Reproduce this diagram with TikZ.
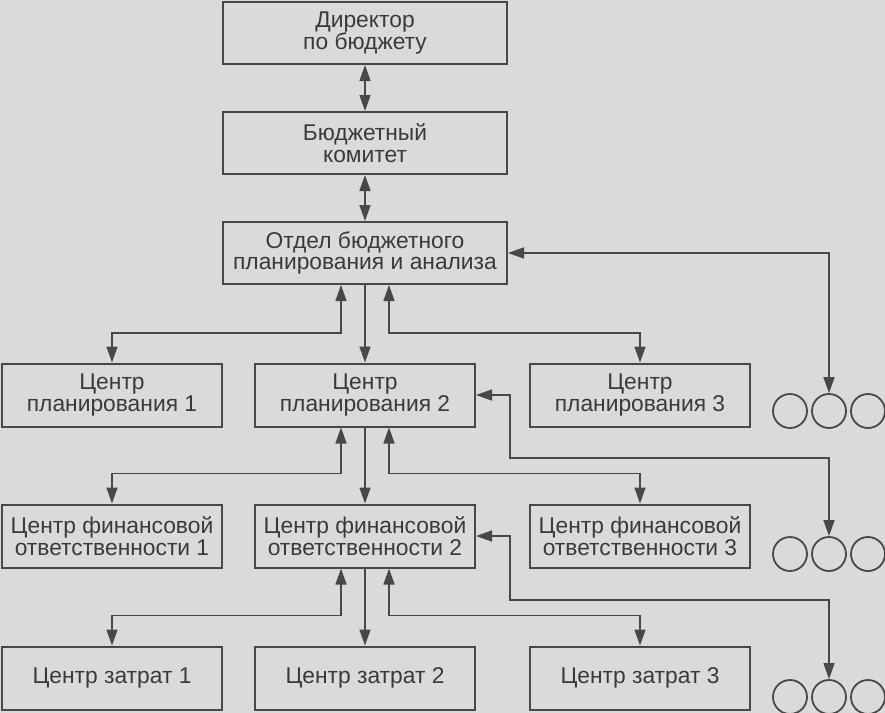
\documentclass[tikz,border=0pt]{standalone}
\usepackage{fontspec}
\setmainfont{Liberation Sans}
\usetikzlibrary{arrows.meta,positioning,calc}
\definecolor{bg}{RGB}{218,218,218}
\definecolor{ink}{RGB}{72,72,72}
\definecolor{txt}{RGB}{58,58,58}

\begin{document}
\begin{tikzpicture}[x=0.5pt, y=-0.5pt,
      font=\fontsize{11.4}{10.8}\selectfont, text=txt,
      topbox/.style={draw=ink, line width=1pt, align=center,
          minimum width=142pt, minimum height=31pt, inner sep=0pt},
      box/.style={draw=ink, line width=1pt, align=center,
          minimum width=110pt, minimum height=31.5pt, inner sep=0pt},
      ring/.style={draw=ink, line width=0.9pt, circle,
          minimum size=17pt, inner sep=0pt},
      link/.style={draw=ink, line width=0.8pt,
          -{Triangle[length=8pt, width=5.5pt]}},
      dlink/.style={draw=ink, line width=0.8pt,
          {Triangle[length=8pt, width=5.5pt]}-{Triangle[length=8pt, width=5.5pt]}}]

      \fill[bg] (0,0) rectangle (885,713);
      \useasboundingbox (0,0) rectangle (885,713);

      % top of the structure
      \node[topbox] (dir)   at (365,33)  {Директор\\по бюджету};
      \node[topbox] (kom)   at (365,143) {Бюджетный\\комитет};
      \node[topbox] (otdel) at (365,253) {Отдел бюджетного\\планирования и анализа};

      % three levels of centres
      \node[box] (cp1) at (112,395) {Центр\\планирования 1};
      \node[box] (cp2) at (365,395) {Центр\\планирования 2};
      \node[box] (cp3) at (640,395) {Центр\\планирования 3};

      \node[box] (cfo1) at (112,536) {Центр финансовой\\ответственности 1};
      \node[box] (cfo2) at (365,536) {Центр финансовой\\ответственности 2};
      \node[box] (cfo3) at (640,536) {Центр финансовой\\ответственности 3};

      \node[box] (cz1) at (112,678) {Центр затрат 1};
      \node[box] (cz2) at (365,678) {Центр затрат 2};
      \node[box] (cz3) at (640,678) {Центр затрат 3};

      % dots on the right
      \foreach \r/\y in {1/411, 2/554, 3/697}
          \foreach \c/\x in {1/790, 2/829, 3/868}
              \node[ring] (c\r\c) at (\x,\y) {};

      % connectors
      \draw[dlink] (dir) -- (kom);
      \draw[dlink] (kom) -- (otdel);
      \draw[dlink] (otdel.east) -| (c12.north);

      \draw[dlink] ([xshift=-12pt]otdel.south) |- ++(-228,48) -| (cp1.north);
      \draw[link]  (otdel) -- (cp2);
      \draw[dlink] ([xshift=12pt]otdel.south) |- ++(252,48) -| (cp3.north);
      \draw[dlink] (cp2.east) -- ++(34,0) -- ++(0,63) -| (c22.north);

      \draw[dlink] ([xshift=-12pt]cp2.south) |- ++(-228,46) -| (cfo1.north);
      \draw[link]  (cp2) -- (cfo2);
      \draw[dlink] ([xshift=12pt]cp2.south) |- ++(252,46) -| (cfo3.north);
      \draw[dlink] (cfo2.east) -- ++(34,0) -- ++(0,64) -| (c32.north);

      \draw[dlink] ([xshift=-12pt]cfo2.south) |- ++(-228,47) -| (cz1.north);
      \draw[link]  (cfo2) -- (cz2);
      \draw[dlink] ([xshift=12pt]cfo2.south) |- ++(252,47) -| (cz3.north);
\end{tikzpicture}
\end{document}
